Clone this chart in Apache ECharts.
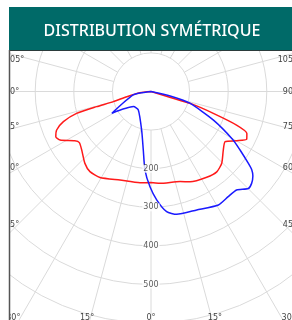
<!DOCTYPE html>
<html>
<head>
<meta charset="utf-8">
<script src="https://cdn.jsdelivr.net/npm/echarts@6/dist/echarts.min.js"></script>
<style>
  html, body { margin: 0; padding: 0; background: #fff; }
  #main { width: 292px; height: 320px; }
</style>
</head>
<body>
<div id="main"></div>
<script>
// angles in degrees from nadir, positive = left half, negative = right half; values in cd
var redAngle = [-90, -73, -73, -70.7, -68.6, -66.4, -63.5, -60.1, -55.9, -51, -44.6, -39.3, -33, -23.4, -17.9, -5.6, 0, 6.9, 19.3, 30.7, 37.3, 42.6, 49.8, 54.5, 57.1, 61.9, 64.6, 67.8, 71, 73.6, 74.4, 74.9, 77.9, 83.8, 90];
var redCd    = [0, 55, 110, 171, 238, 271, 277, 256, 232, 241, 261, 269, 265, 255, 245, 239, 236, 238, 243, 259, 261, 253, 235, 228, 235, 267, 273, 264, 240, 201, 146, 101, 64, 29, 0];

var blueAngle = [90, 82, 79, 66.7, 61, 49.3, 34.5, 13.6, 7.5, 4.4, 0.6, -3, -7.4, -11.8, -21.1, -30.7, -36.3, -41, -45.1, -47.6, -50.3, -52.1, -53.6, -56.7, -59.5, -65.4, -73.2, -76.7, -90];
var blueCd    = [0, 29, 47, 82, 116, 60, 58, 103, 153, 204, 247, 281, 314, 325, 329, 342, 338, 338, 356, 353, 343, 331, 313, 276, 247, 178, 105, 51, 0];

var radialTicks = [200, 300, 400, 500];
var sideTicks = [105, 90, 75, 60, 45];
var bottomTicks = [30, 15, 0, -15, -30];

var cx = 151, cy = 91.5, rMax = 700, R = 270.2;
var labelFont = '8px "DejaVu Sans"';

function pairs(a, v) {
  return a.map(function (ang, i) { return [v[i], ang]; });
}

var chart = echarts.init(document.getElementById('main'));

var series = [];
for (var a = -165; a <= 180; a += 15) {
  series.push({
    type: 'line', coordinateSystem: 'polar', silent: true, symbol: 'none', z: 1,
    lineStyle: { color: '#dadada', width: 1 },
    data: [[100, a], [rMax, a]]
  });
}
series.push({
  type: 'line', coordinateSystem: 'polar', symbol: 'none', smooth: 0.2, z: 3,
  lineStyle: { color: '#ff1a1a', width: 1.5 },
  data: pairs(redAngle, redCd)
});
series.push({
  type: 'line', coordinateSystem: 'polar', symbol: 'none', smooth: 0.2, z: 4,
  lineStyle: { color: '#1a1aff', width: 1.5 },
  data: pairs(blueAngle, blueCd)
});
series.push({
  type: 'scatter', coordinateSystem: 'polar', symbolSize: 0, z: 5,
  data: radialTicks.map(function (r) { return [r, 0]; }),
  label: {
    show: true, position: 'inside', color: '#333', fontSize: 8, fontFamily: 'DejaVu Sans',
    backgroundColor: '#fff', padding: [0, 1],
    formatter: function (p) { return String(p.value[0]); }
  }
});

var graphics = [];
// angle labels on the frame
sideTicks.forEach(function (t) {
  var y = cy + 133 / Math.tan(t * Math.PI / 180);
  if (t === 90) y = cy;
  y = Math.max(y, 60);
  graphics.push({ type: 'text', z: 100, style: { text: t + '°', x: 5, y: y, font: labelFont, fill: '#444', align: 'left', verticalAlign: 'middle' } });
  graphics.push({ type: 'text', z: 100, style: { text: t + '°', x: 297, y: y, font: labelFont, fill: '#444', align: 'right', verticalAlign: 'middle' } });
});
bottomTicks.forEach(function (t) {
  var x = cx - 238.5 * Math.tan(t * Math.PI / 180);
  graphics.push({ type: 'text', z: 100, style: { text: Math.abs(t) + '°', x: x, y: 318, font: labelFont, fill: '#444', align: 'center', verticalAlign: 'middle' } });
});
// frame and header
graphics.push({ type: 'rect', z: 101, shape: { x: 0, y: 0, width: 9, height: 320 }, style: { fill: '#fff' } });
graphics.push({ type: 'rect', z: 101, shape: { x: 0, y: 0, width: 292, height: 7 }, style: { fill: '#fff' } });
graphics.push({ type: 'rect', z: 102, shape: { x: 9, y: 7, width: 290, height: 43 }, style: { fill: '#006a68' } });
graphics.push({ type: 'line', z: 103, shape: { x1: 9, y1: 50.5, x2: 292, y2: 50.5 }, style: { stroke: '#2b3b3b', lineWidth: 1 } });
graphics.push({ type: 'line', z: 103, shape: { x1: 9.5, y1: 50, x2: 9.5, y2: 320 }, style: { stroke: '#555', lineWidth: 1.5 } });
graphics.push({ type: 'text', z: 104, style: { text: 'DISTRIBUTION SYMÉTRIQUE', x: 152, y: 31, font: '500 16px "Noto Sans"', fill: '#fff', align: 'center', verticalAlign: 'middle' } });

chart.setOption({
  animation: false,
  polar: { center: [cx, cy], radius: R },
  // min (-180) sits at startAngle, so 0 lands at the nadir
  angleAxis: {
    type: 'value', min: -180, max: 180, startAngle: 90, clockwise: true,
    axisLine: { show: false }, axisTick: { show: false }, axisLabel: { show: false }, splitLine: { show: false }
  },
  radiusAxis: {
    type: 'value', min: 0, max: rMax, interval: 100,
    axisLine: { show: false }, axisTick: { show: false }, axisLabel: { show: false },
    splitLine: { show: true, lineStyle: { color: '#dadada', width: 1 } }
  },
  series: series,
  graphic: graphics
});
</script>
</body>
</html>
